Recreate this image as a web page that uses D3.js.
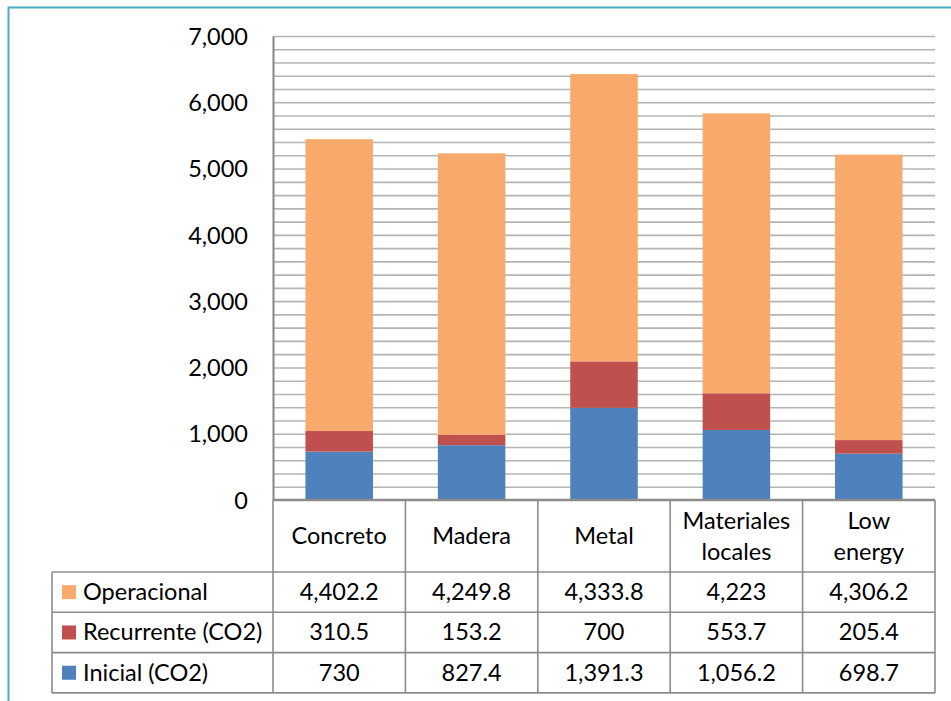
<!DOCTYPE html>
<html>
<head>
<meta charset="utf-8">
<script src="https://cdn.jsdelivr.net/npm/d3@7"></script>
<style>
  body { margin: 0; background: #fff; }
  text { font-family: Lato, "Open Sans", sans-serif; fill: #000; }
</style>
</head>
<body>
<svg id="chart" width="951" height="701"></svg>
<script>
// categories and series
var categories = ["Concreto", "Madera", "Metal", "Materiales locales", "Low energy"];
var inicial = [730, 827.4, 1391.3, 1056.2, 698.7];
var recurrente = [310.5, 153.2, 700, 553.7, 205.4];
var operacional = [4402.2, 4249.8, 4333.8, 4223, 4306.2];
var seriesNames = ["Operacional", "Recurrente (CO2)", "Inicial (CO2)"];
var seriesColors = ["#f7aa6c", "#c0504d", "#4f81bd"];
var yTicks = [0, 1000, 2000, 3000, 4000, 5000, 6000, 7000];
var cellLabels = [
  ["4,402.2", "4,249.8", "4,333.8", "4,223", "4,306.2"],
  ["310.5", "153.2", "700", "553.7", "205.4"],
  ["730", "827.4", "1,391.3", "1,056.2", "698.7"]
];

var svg = d3.select("#chart");
var fs = 23.5;

// frame round the chart
svg.append("path")
    .attr("d", "M8.5,701 L8.5,7.5 L951,7.5")
    .attr("fill", "none")
    .attr("stroke", "#4bacc6")
    .attr("stroke-width", 2);

var plotLeft = 273, plotRight = 935, plotTop = 36, plotBottom = 500;

var x = d3.scaleBand()
    .domain(categories)
    .range([plotLeft, plotRight])
    .paddingInner(0.49)
    .paddingOuter(0.245);
var xCol = d3.scaleBand().domain(categories).range([plotLeft, plotRight]);
var y = d3.scaleLinear()
    .domain([0, 7000])
    .range([plotBottom, plotTop]);

// grid every 200
var grid = d3.range(200, 7001, 200);
svg.append("g").selectAll("line")
    .data(grid)
    .join("line")
    .attr("x1", plotLeft).attr("x2", plotRight)
    .attr("y1", d => y(d) + 0.5).attr("y2", d => y(d) + 0.5)
    .attr("stroke", "#b4b4b4")
    .attr("stroke-width", 1.6);

// stacked bars
var rows = categories.map((c, i) => ({cat: c, inicial: inicial[i], recurrente: recurrente[i], operacional: operacional[i]}));
var stack = d3.stack().keys(["inicial", "recurrente", "operacional"])(rows);
var colorByKey = {inicial: seriesColors[2], recurrente: seriesColors[1], operacional: seriesColors[0]};

svg.append("g").selectAll("g")
    .data(stack)
    .join("g")
    .attr("fill", d => colorByKey[d.key])
    .selectAll("rect")
    .data(d => d)
    .join("rect")
    .attr("x", d => x(d.data.cat))
    .attr("width", x.bandwidth())
    .attr("y", d => y(d[1]))
    .attr("height", d => y(d[0]) - y(d[1]));

// y axis
var yAxis = d3.axisLeft(y).tickValues(yTicks).tickFormat(d3.format(",")).tickSize(0).tickPadding(25);
var ya = svg.append("g")
    .attr("transform", "translate(" + plotLeft + ",0)")
    .call(yAxis);
ya.select(".domain").attr("stroke", "#868686").attr("stroke-width", 2);
ya.selectAll("text").attr("font-size", fs).attr("font-family", "Lato, sans-serif").attr("dy", "0.35em");

// data table
var tableLeft = 52, headBottom = 572, rowH = 40.3, tableBottom = headBottom + rowH * 3;
var lineColor = "#8c8c8c";
var tg = svg.append("g").attr("stroke", lineColor).attr("stroke-width", 1.6);

// horizontal lines
tg.append("line").attr("x1", plotLeft).attr("x2", plotRight).attr("y1", plotBottom).attr("y2", plotBottom).attr("stroke-width", 2.5);
[0, 1, 2, 3].forEach(i => {
  tg.append("line")
    .attr("x1", tableLeft).attr("x2", plotRight)
    .attr("y1", headBottom + i * rowH).attr("y2", headBottom + i * rowH);
});
// vertical lines
tg.append("line").attr("x1", tableLeft).attr("x2", tableLeft).attr("y1", headBottom).attr("y2", tableBottom);
categories.forEach(c => {
  tg.append("line").attr("x1", xCol(c)).attr("x2", xCol(c)).attr("y1", plotBottom).attr("y2", tableBottom);
});
tg.append("line").attr("x1", plotRight).attr("x2", plotRight).attr("y1", plotBottom).attr("y2", tableBottom);

// header labels
svg.append("g").selectAll("text")
    .data(categories)
    .join("text")
    .attr("text-anchor", "middle")
    .attr("font-size", fs)
    .attr("x", d => xCol(d) + xCol.bandwidth() / 2)
    .each(function(d) {
      var words = d.split(" ");
      var t = d3.select(this);
      var cy = (plotBottom + headBottom) / 2;
      if (words.length == 1) {
        t.append("tspan").attr("x", t.attr("x")).attr("y", cy + 8).text(d);
      } else {
        t.append("tspan").attr("x", t.attr("x")).attr("y", cy - 7).text(words[0]);
        t.append("tspan").attr("x", t.attr("x")).attr("y", cy + 24).text(words[1]);
      }
    });

// legend keys and series names
seriesNames.forEach((name, i) => {
  var cy = headBottom + rowH * i + rowH / 2;
  svg.append("rect")
    .attr("x", 62).attr("y", cy - 7)
    .attr("width", 14).attr("height", 14)
    .attr("fill", seriesColors[i]);
  svg.append("text")
    .attr("x", 83).attr("y", cy + 8)
    .attr("font-size", fs)
    .text(name);
  svg.append("g").selectAll("text")
    .data(cellLabels[i])
    .join("text")
    .attr("text-anchor", "middle")
    .attr("font-size", fs)
    .attr("x", (d, j) => xCol(categories[j]) + xCol.bandwidth() / 2)
    .attr("y", cy + 8)
    .text(d => d);
});
</script>
</body>
</html>
